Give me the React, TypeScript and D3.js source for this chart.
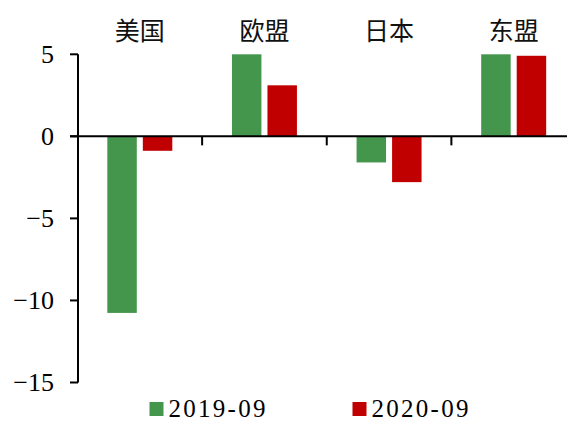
import React from "react";
import * as d3 from "d3";

const categories = ["美国", "欧盟", "日本", "东盟"];
const seriesNames = ["2019-09", "2020-09"];
const series2019 = [-10.76, 5.0, -1.59, 5.0];
const series2020 = [-0.88, 3.11, -2.79, 4.91];
const yTicks = [5, 0, -5, -10, -15];
const colors = ["#44964c", "#c00000"];

const W = 567;
const H = 422;

export default function App() {
  const x = d3.scaleBand<string>().domain(categories).range([77.5, 576]).padding(0);
  const y = d3.scaleLinear().domain([-15, 5]).range([382.5, 54.3]);
  const inner = d3
    .scaleBand<string>()
    .domain(seriesNames)
    .range([0, x.bandwidth()])
    .paddingInner(0.17)
    .paddingOuter(0.84);
  const data = [series2019, series2020];
  const serif = "Liberation Serif";
  const cjk = "Noto Sans CJK SC";
  const fmt = (v: number) => (v < 0 ? "\u2212" + Math.abs(v) : String(v));

  return (
    <svg width={W} height={H} style={{ position: "absolute", left: 0, top: 0, background: "#fff" }}>
      {data.map((vals, si) =>
        vals.map((v, ci) => {
          const cat = categories[ci];
          const x0 = (x(cat) ?? 0) + (inner(seriesNames[si]) ?? 0);
          const yv = y(v);
          const y0 = y(0);
          return (
            <rect
              key={`${si}-${ci}`}
              x={x0}
              y={Math.min(yv, y0)}
              width={inner.bandwidth()}
              height={Math.abs(yv - y0)}
              fill={colors[si]}
            />
          );
        })
      )}
      {/* y axis */}
      <line x1={78} x2={78} y1={y(5)} y2={y(-15)} stroke="#000" strokeWidth={2} />
      {yTicks.map((t) => (
        <g key={t}>
          <line x1={70} x2={78} y1={y(t)} y2={y(t)} stroke="#000" strokeWidth={2} />
          <text
            x={54}
            y={y(t)}
            dy="0.33em"
            textAnchor="end"
            style={{ fontFamily: serif }}
            fontSize={26}
            fill="#000"
          >
            {fmt(t)}
          </text>
        </g>
      ))}
      {/* zero line */}
      <line x1={70} x2={W} y1={y(0)} y2={y(0)} stroke="#000" strokeWidth={2} />
      {categories.slice(1).map((c) => (
        <line
          key={c}
          x1={x(c) ?? 0}
          x2={x(c) ?? 0}
          y1={y(0)}
          y2={y(0) + 9}
          stroke="#000"
          strokeWidth={2}
        />
      ))}
      {categories.map((c) => (
        <text
          key={c}
          x={(x(c) ?? 0) + x.bandwidth() / 2}
          y={40}
          textAnchor="middle"
          style={{ fontFamily: cjk }}
          fontSize={25}
          fill="#111"
        >
          {c}
        </text>
      ))}
      {/* legend */}
      {seriesNames.map((s, i) => {
        const lx = [149.5, 352.5][i];
        return (
          <g key={s}>
            <rect x={lx} y={402} width={14} height={14} fill={colors[i]} />
            <text
              x={lx + 19}
              y={417}
              style={{ fontFamily: serif }}
              fontSize={25}
              textLength={97}
              lengthAdjust="spacing"
              fill="#000"
            >
              {s}
            </text>
          </g>
        );
      })}
    </svg>
  );
}
